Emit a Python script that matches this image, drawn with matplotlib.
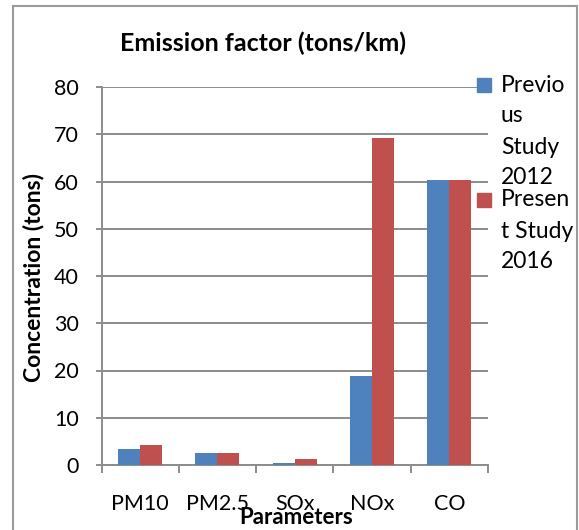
import numpy as np
import matplotlib.pyplot as plt
from matplotlib.patches import Rectangle

plt.rcParams['font.family'] = ['Lato', 'DejaVu Sans']

categories = ['PM10', 'PM2.5', 'SOx', 'NOx', 'CO']
previous_2012 = [3.4, 2.5, 0.4, 18.8, 60.3]
present_2016 = [4.3, 2.5, 1.3, 69.2, 60.3]
legend_labels = [['Previo', 'us', 'Study', '2012'], ['Presen', 't Study', '2016']]

blue = '#4F81BD'
red = '#C0504D'
grid_col = '#8C8C8C'

W, H = 579, 530
fig = plt.figure(figsize=(5.79, 5.30), dpi=100)
ax = fig.add_axes([101.5 / W, 1 - 465 / H, (488 - 101.5) / W, (465 - 87) / H])

x = np.arange(len(categories))
w = 0.285
ax.bar(x - w / 2, previous_2012, w, color=blue, zorder=3)
ax.bar(x + w / 2, present_2016, w, color=red, zorder=3)

ax.set_xlim(-0.5, len(categories) - 0.5)
ax.set_ylim(0, 80)
ax.set_yticks(range(0, 81, 10))
ax.yaxis.grid(True, color=grid_col, linewidth=1.4, zorder=0)

# category boundary ticks on the x axis
ax.set_xticks(np.arange(-0.5, len(categories), 1.0))
ax.set_xticklabels([])
ax.set_xticks(x, minor=True)
ax.set_xticklabels(categories, minor=True)
ax.tick_params(axis='x', which='major', length=6, width=1.4, color=grid_col, direction='out')
ax.tick_params(axis='x', which='minor', length=0, pad=21, labelsize=15.5)
ax.tick_params(axis='y', length=4.5, width=1.4, color=grid_col, labelsize=15.5, pad=12)

for s in ['top', 'right']:
    ax.spines[s].set_visible(False)
for s in ['left', 'bottom']:
    ax.spines[s].set_color(grid_col)
    ax.spines[s].set_linewidth(1.4)

fig.text(34 / W, 1 - 278 / H, 'Concentration (tons)', rotation=90, ha='center', va='center',
         fontsize=16.5, fontweight='bold')
fig.text(296 / W, 1 - 517 / H, 'Parameters', ha='center', va='center', fontsize=16, fontweight='bold')
fig.text(263 / W, 1 - 43 / H, 'Emission factor (tons/km)', ha='center', va='center', fontsize=18, fontweight='bold')

# legend drawn by hand so the wrapped labels overlap like the original
for col, lines, y0 in [(blue, legend_labels[0], 85), (red, legend_labels[1], 200)]:
    fig.patches.append(Rectangle((477 / W, 1 - (y0 + 7) / H), 14 / W, 14 / H,
                                 transform=fig.transFigure, color=col, figure=fig))
    for i, line in enumerate(lines):
        fig.text(501 / W, 1 - (y0 + i * 31) / H, line, ha='left', va='center', fontsize=16.5)

# outer chart border
fig.patches.append(Rectangle((12.5 / W, -0.05), (577 - 12.5) / W, 1.05 - 6 / H,
                             transform=fig.transFigure, fill=False,
                             edgecolor='#9A9A9A', linewidth=1.5, figure=fig))

fig.savefig('out.png', dpi=100)
